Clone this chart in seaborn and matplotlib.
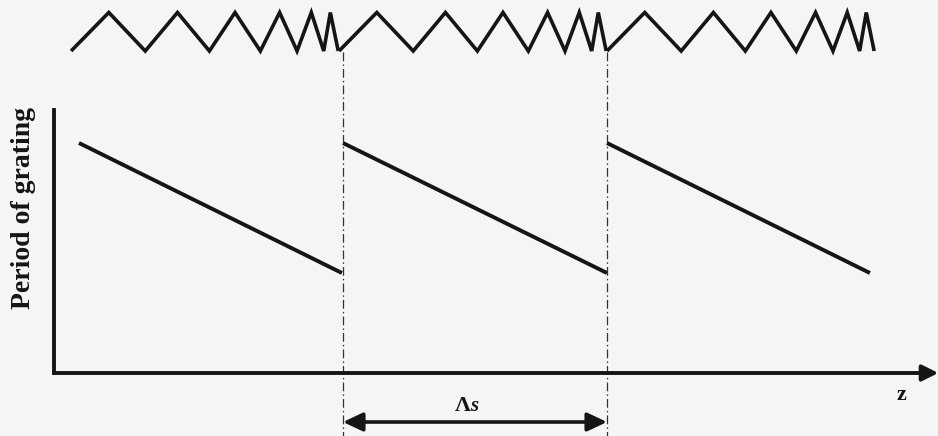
import matplotlib
matplotlib.use("Agg")
import matplotlib.pyplot as plt
import pandas as pd
import seaborn as sns

# ---------------- data (z in units of the sampling period Λs) ----------------
segment_ids = [1, 2, 3]
period_z_start = [0.0, 1.0, 2.0]
period_z_end = [0.996, 2.0, 2.996]
period_high = [2.30, 2.30, 2.30]
period_low = [1.00, 1.00, 1.00]

# chirped grating sketch on top: vertex positions within one sample (fraction of Λs)
zigzag_start = [-0.03, 0.985, 2.0]
zigzag_frac = [0.000, 0.143, 0.281, 0.403, 0.524, 0.621, 0.717,
               0.790, 0.856, 0.910, 0.957, 0.982, 1.012]
zigzag_level = [3.22, 3.605, 3.22, 3.605, 3.22, 3.605, 3.22,
                3.605, 3.22, 3.605, 3.22, 3.605, 3.22]

boundaries = [1.0, 2.0]
ylabel_text = "Period of grating"
xlabel_text = "z"
lambda_main = "Λ"
lambda_sub = "s"

# ---------------- tables ----------------
period_rows = []
for sid, z0, z1, hi, lo in zip(segment_ids, period_z_start, period_z_end, period_high, period_low):
    period_rows.append({"segment": sid, "z": z0, "period": hi})
    period_rows.append({"segment": sid, "z": z1, "period": lo})
df_period = pd.DataFrame(period_rows)

zig_rows = []
for sid, z0 in zip(segment_ids, zigzag_start):
    for f, lv in zip(zigzag_frac, zigzag_level):
        zig_rows.append({"segment": sid, "z": z0 + f, "level": lv})
df_zig = pd.DataFrame(zig_rows)

# ---------------- figure ----------------
bg = "#f4f5f7"
ink = "#151515"
sns.set_style("white")
serif = "Liberation Serif"
plt.rcParams["font.family"] = [serif, "DejaVu Serif"]

fig = plt.figure(figsize=(9.38, 4.36), dpi=100, facecolor=bg)
ax = fig.add_axes([0, 0, 1, 1])
ax.set_facecolor(bg)
ax.set_xlim(-0.2992, 3.2538)
ax.set_ylim(-0.63, 3.73)
ax.axis("off")

# sawtooth period-of-grating lines
sns.lineplot(data=df_period, x="z", y="period", units="segment", estimator=None,
             sort=False, color=ink, lw=2.8, legend=False, ax=ax,
             solid_capstyle="butt")

# zigzag grating sketch
sns.lineplot(data=df_zig, x="z", y="level", units="segment", estimator=None,
             sort=False, color=ink, lw=2.6, legend=False, ax=ax,
             solid_joinstyle="miter", solid_capstyle="butt")

# dash-dot sample boundaries
for b in boundaries:
    ax.plot([b, b], [3.21, -0.63], color="#333333", lw=0.9,
            linestyle=(0, (7, 2.5, 1.2, 2.5)))

# axes
x0 = -0.0947
ax.plot([x0, x0], [2.63, 0.0], color=ink, lw=2.8, solid_capstyle="projecting")
ax.annotate("", xy=(3.255, 0.0), xytext=(x0, 0.0),
            arrowprops=dict(arrowstyle="-|>,head_length=0.6,head_width=0.3",
                            mutation_scale=16, color=ink, lw=2.8,
                            shrinkA=0, shrinkB=0))

# Λs double arrow
ax.annotate("", xy=(boundaries[1], -0.49), xytext=(boundaries[0], -0.49),
            arrowprops=dict(arrowstyle="<|-|>,head_length=0.85,head_width=0.4",
                            mutation_scale=14, color=ink, lw=2.6,
                            shrinkA=0, shrinkB=0))

# texts
ax.text(-0.212, 1.65, ylabel_text, rotation=90, ha="center", va="center",
        fontsize=20, fontweight="bold", color=ink, family=serif)
ax.text(3.117, -0.27, xlabel_text, ha="center", va="baseline",
        fontsize=16, fontweight="bold", color=ink, family=serif)
ax.text(1.483, -0.38, lambda_main, ha="right", va="baseline",
        fontsize=16, fontweight="bold", color=ink, family=serif)
ax.text(1.483, -0.38, lambda_sub, ha="left", va="baseline",
        fontsize=15, fontweight="bold", fontstyle="italic", color=ink, family=serif)

fig.savefig("out.png", dpi=100, facecolor=bg)
